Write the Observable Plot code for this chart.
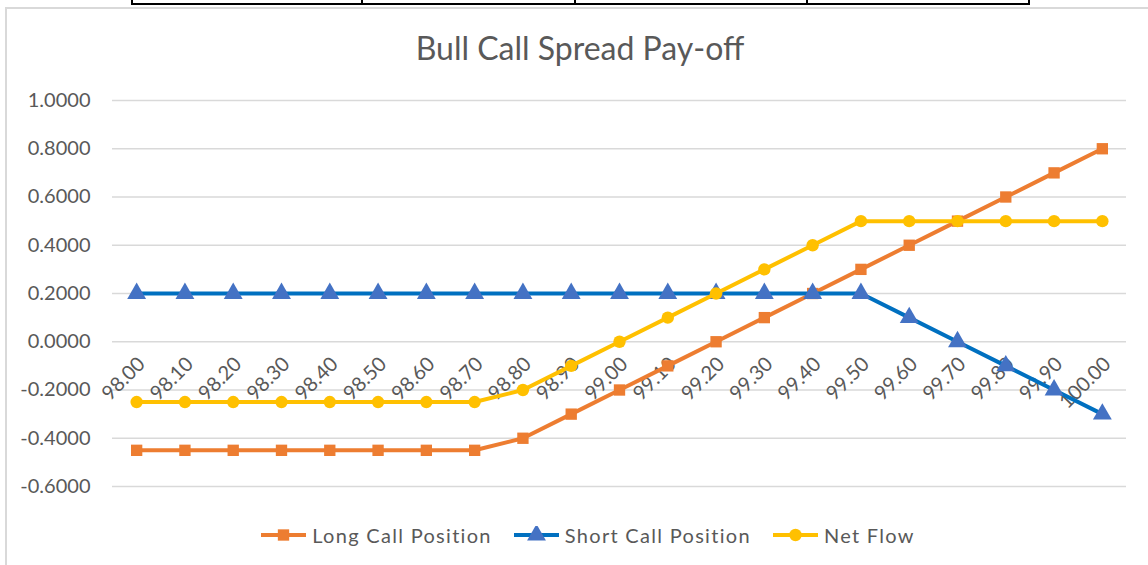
<!DOCTYPE html>
<html>
<head>
<meta charset="utf-8">
<script src="https://cdn.jsdelivr.net/npm/d3@7"></script>
<script src="https://cdn.jsdelivr.net/npm/@observablehq/plot@0.6"></script>
<style>
  html, body { margin: 0; padding: 0; background: #fff; }
  body { width: 1148px; height: 565px; position: relative; overflow: hidden; font-family: Lato, "Open Sans", sans-serif; }
  #title { height: 78px; box-sizing: border-box; padding-top: 29px; padding-left: 12px; text-align: center; font-size: 32px; line-height: 38px; color: #595959; }
  #chart svg { display: block; }
  #legend { display: flex; justify-content: center; align-items: center; height: 26px; margin-top: 4px; padding-left: 28px; font-size: 20px; letter-spacing: 1.3px; color: #595959; }
  .item { display: flex; align-items: center; margin: 0 11px; }
  .item svg { margin-right: 6px; }
  .deco { position: absolute; }
</style>
</head>
<body>
<div class="deco" style="left:6px; top:7px; width:1142px; height:2px; background:#d9d9d9;"></div>
<div class="deco" style="left:5px; top:7px; width:2px; height:558px; background:#d9d9d9;"></div>
<div class="deco" style="left:131px; top:3px; width:899px; height:2px; background:#000;"></div>
<div class="deco" style="left:131px; top:0px; width:2px; height:5px; background:#000;"></div>
<div class="deco" style="left:361px; top:0px; width:2px; height:5px; background:#000;"></div>
<div class="deco" style="left:574px; top:0px; width:2px; height:5px; background:#000;"></div>
<div class="deco" style="left:806px; top:0px; width:2px; height:5px; background:#000;"></div>
<div class="deco" style="left:1028px; top:0px; width:2px; height:5px; background:#000;"></div>
<div id="title">Bull Call Spread Pay-off</div>
<div id="chart"></div>
<div id="legend"></div>
<script>
const strikes = ["98.00","98.10","98.20","98.30","98.40","98.50","98.60","98.70","98.80","98.90","99.00","99.10","99.20","99.30","99.40","99.50","99.60","99.70","99.80","99.90","100.00"];
const longCall = [-0.45,-0.45,-0.45,-0.45,-0.45,-0.45,-0.45,-0.45,-0.40,-0.30,-0.20,-0.10,0.00,0.10,0.20,0.30,0.40,0.50,0.60,0.70,0.80];
const shortCall = [0.20,0.20,0.20,0.20,0.20,0.20,0.20,0.20,0.20,0.20,0.20,0.20,0.20,0.20,0.20,0.20,0.10,0.00,-0.10,-0.20,-0.30];
const netFlow = [-0.25,-0.25,-0.25,-0.25,-0.25,-0.25,-0.25,-0.25,-0.20,-0.10,0.00,0.10,0.20,0.30,0.40,0.50,0.50,0.50,0.50,0.50,0.50];
const yTicks = [-0.6,-0.4,-0.2,0,0.2,0.4,0.6,0.8,1.0];
const seriesNames = ["Long Call Position","Short Call Position","Net Flow"];
const lineColors = ["#ED7D31","#0070C0","#FFC000"];
const markerColors = ["#ED7D31","#4472C4","#FFC000"];
const symbols = ["square","triangle","circle"];
const markerR = [6.4,7,6.2];

const fmt = v => d3.format(".4f")(v).replace("\u2212", "-");
const allSeries = [longCall, shortCall, netFlow];
const rows = allSeries.map((vals, i) => strikes.map((s, j) => ({strike: s, value: vals[j], series: seriesNames[i]})));

const marks = [
  Plot.ruleY(yTicks, {stroke: "#d9d9d9", strokeWidth: 1.5}),
  Plot.axisY({ticks: yTicks, tickFormat: fmt, tickSize: 0, tickPadding: 22, fontSize: 20, color: "#595959", label: null}),
  Plot.text(strikes, {x: d => d, y: 0, text: d => d, rotate: -45, textAnchor: "end", dx: 5, dy: 19, fontSize: 20, fill: "#595959"})
];
rows.forEach((data, i) => {
  marks.push(Plot.line(data, {x: "strike", y: "value", stroke: lineColors[i], strokeWidth: 4, strokeLinejoin: "round"}));
  marks.push(Plot.dot(data, {x: "strike", y: "value", symbol: symbols[i], r: markerR[i], fill: markerColors[i], stroke: "none"}));
});

const chart = Plot.plot({
  width: 1148,
  height: 440,
  marginLeft: 112,
  marginRight: 22,
  marginTop: 22,
  marginBottom: 32,
  style: {fontFamily: "Lato, 'Open Sans', sans-serif", background: "#fff", overflow: "visible"},
  x: {type: "point", domain: strikes, axis: null, round: false},
  y: {domain: [-0.6, 1.0], axis: null},
  marks
});
document.getElementById("chart").appendChild(chart);

const legend = document.getElementById("legend");
seriesNames.forEach((name, i) => {
  const item = document.createElement("div");
  item.className = "item";
  const sym = d3.symbol(d3["symbol" + symbols[i][0].toUpperCase() + symbols[i].slice(1)], Math.PI * markerR[i] * markerR[i])();
  item.innerHTML = `<svg width="45" height="18"><line x1="0" x2="45" y1="9" y2="9" stroke="${lineColors[i]}" stroke-width="4"/><path d="${sym}" transform="translate(22.5,9)" fill="${markerColors[i]}"/></svg><span>${name}</span>`;
  legend.appendChild(item);
});
</script>
</body>
</html>
